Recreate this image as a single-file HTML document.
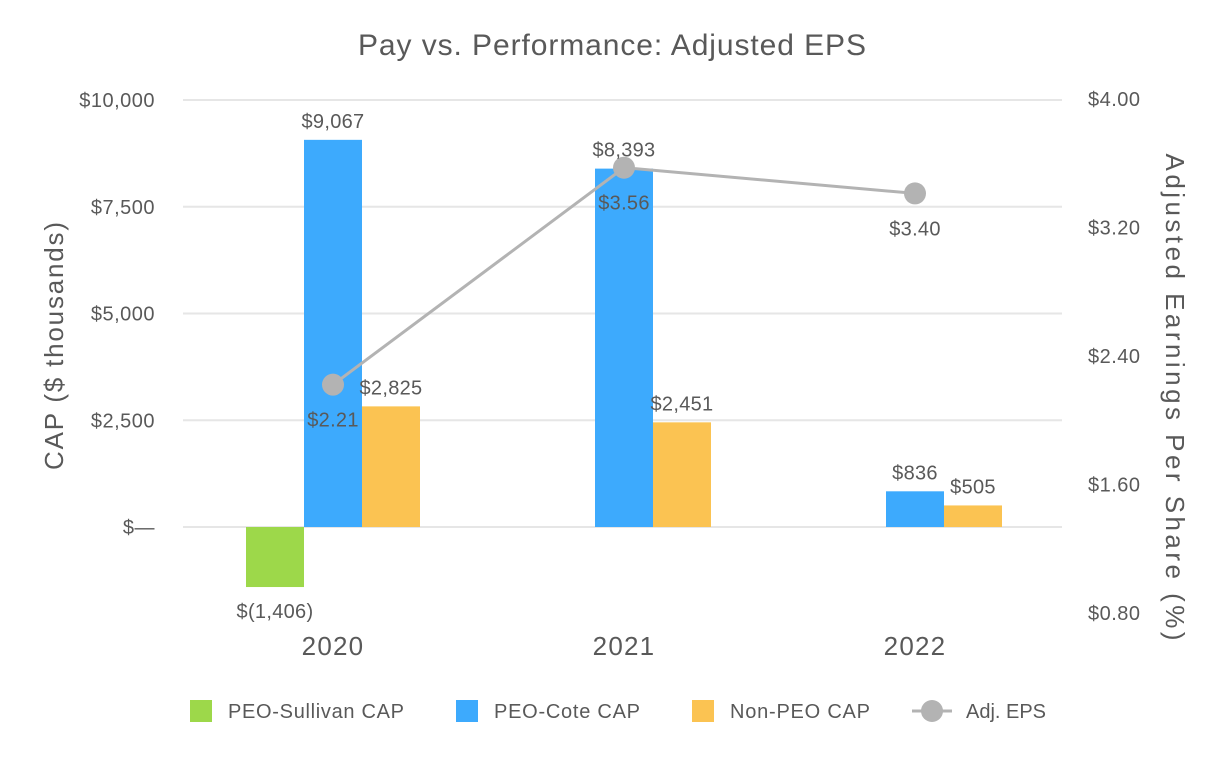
<!DOCTYPE html>
<html><head><meta charset="utf-8"><style>
body{margin:0;background:#fff;font-family:"Liberation Sans",Arial,sans-serif}
</style></head><body>
<svg id="chart" width="1226" height="760" xmlns="http://www.w3.org/2000/svg" font-family="Liberation Sans, Arial, sans-serif">
<text x="612" y="55" text-anchor="middle" font-size="30" fill="#595959" textLength="508" lengthAdjust="spacing">Pay vs. Performance: Adjusted EPS</text>
<g id="grid"></g><g id="bars"></g><g id="line"></g><g id="labels"></g>
<text transform="translate(63,346) rotate(-90)" text-anchor="middle" font-size="26" fill="#595959" textLength="248" lengthAdjust="spacing">CAP ($ thousands)</text>
<text transform="translate(1166,397) rotate(90)" text-anchor="middle" font-size="26" fill="#595959" textLength="487" lengthAdjust="spacing">Adjusted Earnings Per Share  (%)</text>
<g font-size="20" fill="#595959">
<rect x="190" y="700" width="22" height="22" fill="#9dd84a"/>
<text x="228" y="718" textLength="176" lengthAdjust="spacing">PEO-Sullivan CAP</text>
<rect x="456" y="700" width="22" height="22" fill="#3daafd"/>
<text x="494" y="718" textLength="146" lengthAdjust="spacing">PEO-Cote CAP</text>
<rect x="692" y="700" width="22" height="22" fill="#fbc352"/>
<text x="730" y="718" textLength="140" lengthAdjust="spacing">Non-PEO CAP</text>
<line x1="912" y1="711" x2="952" y2="711" stroke="#b3b3b3" stroke-width="3"/>
<circle cx="932" cy="711" r="11" fill="#b3b3b3"/>
<text x="966" y="718" textLength="80" lengthAdjust="spacing">Adj. EPS</text>
</g>
</svg>
<script>
const years=["2020","2021","2022"];
const sullivan=[-1406,0,0];
const cote=[9067,8393,836];
const nonPeo=[2825,2451,505];
const eps=[2.21,3.56,3.40];
const leftTicks=[10000,7500,5000,2500,0];
const leftTickLabels=["$10,000","$7,500","$5,000","$2,500","$—"];
const rightTicks=[4.0,3.2,2.4,1.6,0.8];
const rightTickLabels=["$4.00","$3.20","$2.40","$1.60","$0.80"];
const NS="http://www.w3.org/2000/svg";
const yL=v=>527-v*(427/10000);
const yR=v=>97+(4-v)*160.7;
const xC=i=>333+i*291;
function mk(tag,attrs,parent,txt){const e=document.createElementNS(NS,tag);for(const k in attrs)e.setAttribute(k,attrs[k]);if(txt!==undefined)e.textContent=txt;document.getElementById(parent).appendChild(e);return e;}
leftTicks.forEach((t,i)=>{
 const g=mk("line",{x1:183,x2:1062,y1:yL(t),y2:yL(t),stroke:"#e6e6e6","stroke-width":2},"grid");
 
 
 const l=mk("text",{x:155,y:yL(t)+7,"text-anchor":"end","font-size":20,"letter-spacing":0.5,fill:"#595959"},"grid",leftTickLabels[i]);
 
 
});
rightTicks.forEach((t,i)=>{
 const l=mk("text",{x:1088,y:yR(t)+9,"font-size":20,"letter-spacing":0.5,fill:"#595959"},"grid",rightTickLabels[i]);
 
 
});
const fmt=v=>v<0?"$("+Math.abs(v).toLocaleString("en-US")+")":"$"+v.toLocaleString("en-US");
const series=[[sullivan,"#9dd84a",-1,"bar-sullivan"],[cote,"#3daafd",0,"bar-cote"],[nonPeo,"#fbc352",1,"bar-nonpeo"]];
years.forEach((yr,i)=>{
 const yl=mk("text",{x:xC(i),y:655,"text-anchor":"middle","font-size":26,"letter-spacing":1.2,fill:"#595959"},"labels",yr);
 
 
 series.forEach(([arr,col,off,nm])=>{
  const v=arr[i]; if(v===0)return;
  const x=xC(i)+off*58-29;
  const top=Math.min(yL(v),yL(0)), h=Math.abs(yL(v)-yL(0));
  const r=mk("rect",{x:x,y:top,width:58,height:h,fill:col},"bars");
  
  
  const ly=v<0?yL(v)+31:yL(v)-12;
  const t=mk("text",{x:x+29,y:ly,"text-anchor":"middle","font-size":20,"letter-spacing":0.3,fill:"#595959"},"labels",fmt(v));
  
  
 });
});
const pts=eps.map((v,i)=>xC(i)+","+yR(v)).join(" ");
const pl=mk("polyline",{points:pts,fill:"none",stroke:"#b3b3b3","stroke-width":3},"line");


eps.forEach((v,i)=>{
 const c=mk("circle",{cx:xC(i),cy:yR(v),r:11,fill:"#b3b3b3"},"line");
 
 
 const t=mk("text",{x:xC(i),y:yR(v)+42,"text-anchor":"middle","font-size":20,"letter-spacing":0.3,fill:"#595959"},"labels","$"+v.toFixed(2));
 
 
});
</script>
</body></html>
